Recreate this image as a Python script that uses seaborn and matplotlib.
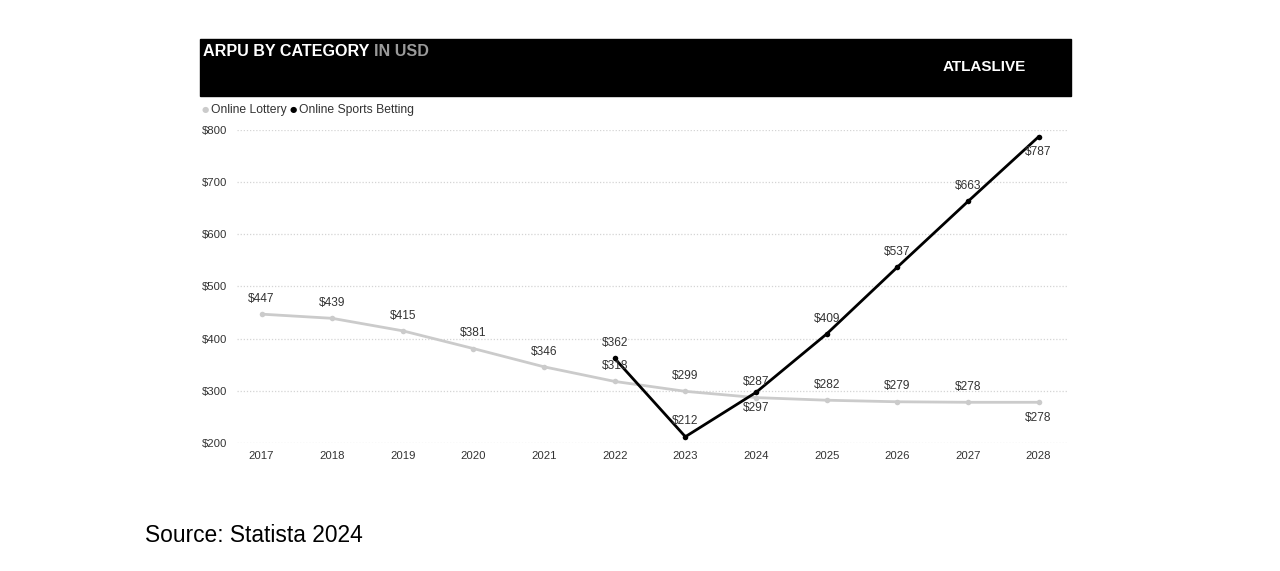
import matplotlib
matplotlib.use("Agg")
import matplotlib.pyplot as plt
from matplotlib.patches import Rectangle
import numpy as np
import pandas as pd
import seaborn as sns

# %% data
years = list(range(2017, 2029))
lottery = [447, 439, 415, 381, 346, 318, 299, 287, 282, 279, 278, 278]
betting_years = list(range(2022, 2029))
betting = [362, 212, 297, 409, 537, 663, 787]

# label above (+1) or below (-1) the point
lottery_side = [1, 1, 1, 1, 1, 1, 1, 1, 1, 1, 1, -1]
betting_side = [1, 1, -1, 1, 1, 1, -1]

df = pd.concat([
    pd.DataFrame({'year': years, 'arpu': lottery, 'category': 'Online Lottery'}),
    pd.DataFrame({'year': betting_years, 'arpu': betting, 'category': 'Online Sports Betting'}),
])

sns.set_theme(style='white')
plt.rcParams['font.family'] = ['Liberation Sans', 'DejaVu Sans']

fig = plt.figure(figsize=(12.8, 5.71), dpi=100)
ax = fig.add_axes([0.185, 0.2242, 0.649, 0.5481])

colors = {'Online Lottery': '#cbcbcb', 'Online Sports Betting': '#000000'}
sns.lineplot(data=df, x='year', y='arpu', hue='category', palette=colors,
             marker='o', markersize=4, markeredgewidth=0, linewidth=2,
             legend=False, ax=ax)

ax.set_xlim(2016.65, 2028.41)
ax.set_ylim(200, 800)
ax.set_xticks(years)
ax.set_yticks(range(200, 801, 100))
ax.set_yticklabels([f'${v}' for v in range(200, 801, 100)])
ax.tick_params(axis='both', labelsize=8.2, colors='#333333', length=0, pad=6)
ax.tick_params(axis='y', pad=25)
for lab in ax.get_yticklabels():
    lab.set_horizontalalignment('left')
ax.set_xlabel('')
ax.set_ylabel('')
for s in ax.spines.values():
    s.set_visible(False)
ax.yaxis.grid(True, linestyle=(0, (1, 1.5)), color='#d4d4d4', linewidth=0.9)
ax.set_axisbelow(True)

# value labels
for x, y, side in zip(years, lottery, lottery_side):
    ax.annotate(f'${y}', (x, y), xytext=(0, 11 * side), textcoords='offset points',
                ha='center', va='center', fontsize=8.6, color='#333333')
for x, y, side in zip(betting_years, betting, betting_side):
    ax.annotate(f'${y}', (x, y), xytext=(0, 11 * side), textcoords='offset points',
                ha='center', va='center', fontsize=8.6, color='#333333')

# header band
fig.patches.append(Rectangle((200 / 1280, 1 - 96 / 571), 871 / 1280, 57 / 571,
                             transform=fig.transFigure, color='black', zorder=0))
t = fig.text(203 / 1280, 1 - 51 / 571, 'ARPU BY CATEGORY ', color='white',
             fontsize=11.6, fontweight='bold', va='center', ha='left')
fig.canvas.draw()
bb = t.get_window_extent()
fig.text(bb.x1 / 1280, 1 - 51 / 571, 'IN USD', color='#9a9a9a',
         fontsize=11.6, fontweight='bold', va='center', ha='left')
fig.text(1026 / 1280, 1 - 67 / 571, 'ATLASLIVE', color='white', fontsize=11,
         fontweight='bold', va='center', ha='right')

# legend
fig.text(202 / 1280, 1 - 110 / 571, '\u25cf', color='#cbcbcb', fontsize=6,
         va='center', ha='left', family=['DejaVu Sans'])
fig.text(211 / 1280, 1 - 110 / 571, 'Online Lottery', color='#333333', fontsize=8.7,
         va='center', ha='left')
fig.text(290 / 1280, 1 - 110 / 571, '\u25cf', color='black', fontsize=6,
         va='center', ha='left', family=['DejaVu Sans'])
fig.text(299 / 1280, 1 - 110 / 571, 'Online Sports Betting', color='#333333', fontsize=8.7,
         va='center', ha='left')

fig.text(145 / 1280, 1 - 535 / 571, 'Source: Statista 2024', color='black',
         fontsize=16.4, va='center', ha='left')

fig.savefig('out.png', dpi=100, facecolor='white')
